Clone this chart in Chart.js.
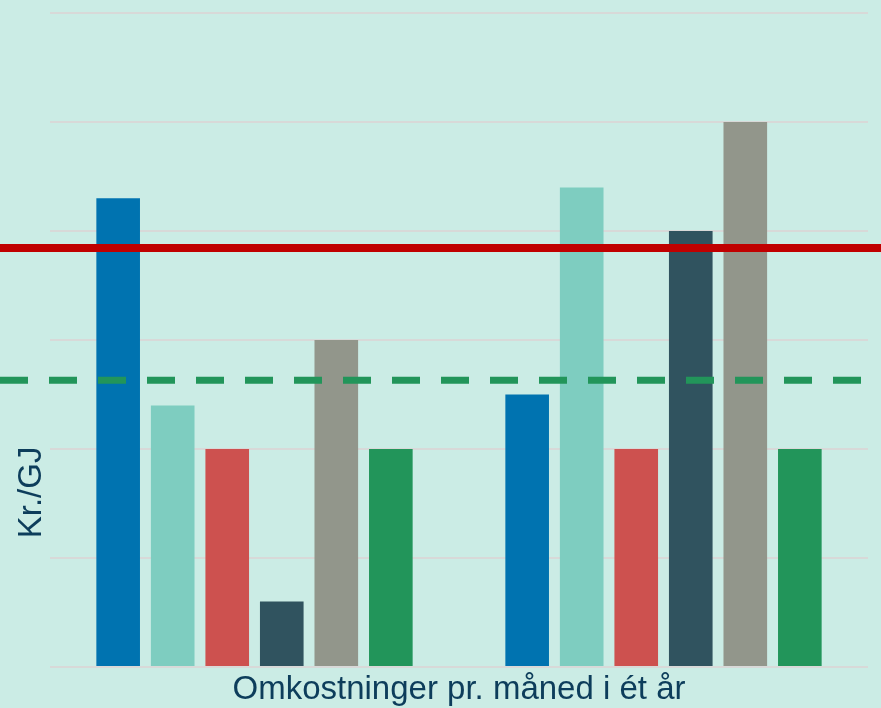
<!DOCTYPE html>
<html>
<head>
<meta charset="utf-8">
<script src="https://cdn.jsdelivr.net/npm/chart.js@4/dist/chart.umd.min.js"></script>
<style>
  html, body { margin: 0; padding: 0; background: #cbece5; }
  #wrap { width: 881px; height: 708px; }
</style>
</head>
<body>
<div id="wrap"><canvas id="c" width="881" height="708"></canvas></div>
<script>
const categories = ['Gruppe 1', 'Gruppe 2'];
const seriesNames = ['Serie 1', 'Serie 2', 'Serie 3', 'Serie 4', 'Serie 5', 'Serie 6'];
const series1 = [4.3, 2.5];
const series2 = [2.4, 4.4];
const series3 = [2.0, 2.0];
const series4 = [0.6, 4.0];
const series5 = [3.0, 5.0];
const series6 = [2.0, 2.0];
const seriesColors = ['#0073b0', '#7ecdc0', '#cd514f', '#30535f', '#92968b', '#22955a'];
const redLineValue = 3.845;
const greenLineValue = 2.63;
const yMin = 0, yMax = 6, yStep = 1;
const xTitle = 'Omkostninger pr. måned i ét år';
const yTitle = 'Kr./GJ';

const allSeries = [series1, series2, series3, series4, series5, series6];

const refLines = {
  id: 'refLines',
  afterDatasetsDraw(chart) {
    const ctx = chart.ctx;
    const y = chart.scales.y;
    ctx.save();
    let py = y.getPixelForValue(redLineValue);
    ctx.strokeStyle = '#c00000';
    ctx.lineWidth = 8;
    ctx.beginPath();
    ctx.moveTo(0, py);
    ctx.lineTo(chart.width, py);
    ctx.stroke();
    py = y.getPixelForValue(greenLineValue);
    ctx.strokeStyle = '#22955a';
    ctx.lineWidth = 7;
    ctx.setLineDash([28, 21]);
    ctx.lineDashOffset = 0;
    ctx.beginPath();
    ctx.moveTo(0, py);
    ctx.lineTo(chart.width, py);
    ctx.stroke();
    ctx.restore();
  }
};

const yTitlePlugin = {
  id: 'yTitlePlugin',
  afterDraw(chart) {
    const ctx = chart.ctx;
    const a = chart.chartArea;
    ctx.save();
    ctx.translate(32, a.top + (a.bottom - a.top) * 0.733);
    ctx.rotate(-Math.PI / 2);
    ctx.font = '33px "Liberation Sans", Arial, sans-serif';
    ctx.fillStyle = '#0d3d5b';
    ctx.textAlign = 'center';
    ctx.textBaseline = 'middle';
    ctx.fillText(yTitle, 0, 0);
    ctx.restore();
  }
};

const bgPlugin = {
  id: 'bg',
  beforeDraw(chart) {
    const ctx = chart.ctx;
    ctx.save();
    ctx.fillStyle = '#cbece5';
    ctx.fillRect(0, 0, chart.width, chart.height);
    ctx.restore();
  }
};

new Chart(document.getElementById('c'), {
  type: 'bar',
  data: {
    labels: categories,
    datasets: allSeries.map((d, i) => ({
      label: seriesNames[i],
      data: d,
      backgroundColor: seriesColors[i],
      borderWidth: 0,
      categoryPercentage: 0.8,
      barPercentage: 0.8
    }))
  },
  options: {
    responsive: false,
    animation: false,
    devicePixelRatio: 1,
    layout: { padding: { left: 50, right: 13, top: 13, bottom: 0 } },
    plugins: {
      legend: { display: false },
      tooltip: { enabled: false }
    },
    scales: {
      x: {
        grid: { display: false, drawTicks: false },
        border: { display: false },
        ticks: { display: false },
        title: {
          display: true,
          text: xTitle,
          color: '#0d3d5b',
          font: { family: '"Liberation Sans", Arial, sans-serif', size: 33, lineHeight: 1 },
          padding: { top: 6, bottom: 2 }
        }
      },
      y: {
        min: yMin,
        max: yMax,
        ticks: { display: false, stepSize: yStep },
        grid: { color: '#d8d9d8', lineWidth: 2, drawTicks: false },
        border: { display: false }
      }
    }
  },
  plugins: [bgPlugin, refLines, yTitlePlugin]
});
</script>
</body>
</html>
